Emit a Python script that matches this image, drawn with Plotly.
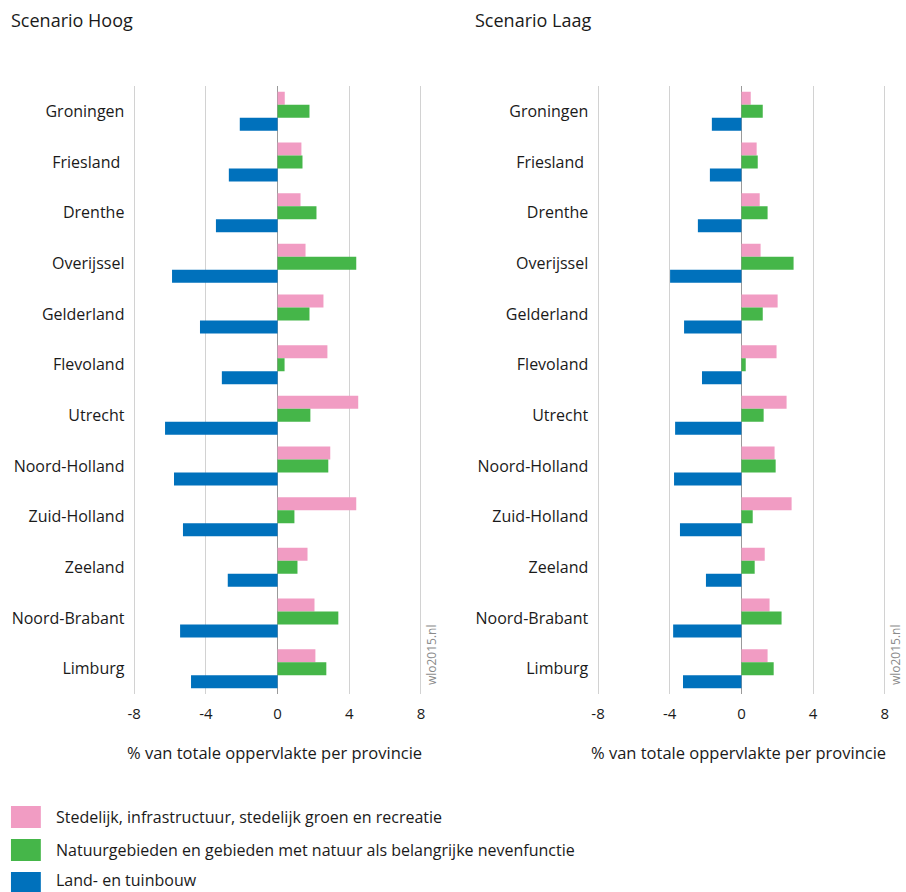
import plotly.graph_objects as go

provinces = ["Groningen", "Friesland ", "Drenthe", "Overijssel", "Gelderland", "Flevoland",
             "Utrecht", "Noord-Holland", "Zuid-Holland", "Zeeland", "Noord-Brabant", "Limburg"]

series_names = ["Stedelijk, infrastructuur, stedelijk groen en recreatie",
                "Natuurgebieden en gebieden met natuur als belangrijke nevenfunctie",
                "Land- en tuinbouw"]
colors = ["#F19CC3", "#45B649", "#0071BC"]

hoog_stedelijk = [0.4, 1.33, 1.28, 1.56, 2.56, 2.78, 4.5, 2.94, 4.39, 1.67, 2.06, 2.11]
hoog_natuur = [1.78, 1.39, 2.17, 4.39, 1.78, 0.39, 1.83, 2.83, 0.94, 1.11, 3.39, 2.72]
hoog_landbouw = [-2.11, -2.72, -3.44, -5.89, -4.33, -3.11, -6.28, -5.78, -5.28, -2.78, -5.44, -4.83]

laag_stedelijk = [0.52, 0.85, 1.02, 1.07, 2.02, 1.96, 2.52, 1.85, 2.8, 1.3, 1.57, 1.46]
laag_natuur = [1.19, 0.91, 1.46, 2.91, 1.19, 0.24, 1.24, 1.91, 0.63, 0.74, 2.24, 1.8]
laag_landbouw = [-1.65, -1.76, -2.43, -3.98, -3.2, -2.2, -3.7, -3.76, -3.43, -1.98, -3.81, -3.26]

x_ticks = [-8, -4, 0, 4, 8]
panel_titles = ["Scenario Hoog", "Scenario Laag"]
axis_title = "% van totale oppervlakte per provincie"
watermark = "wlo2015.nl"

W, H = 906, 892
FONT = "Open Sans"
TXT = "#1a1a1a"
XR = 8.2          # axis half-range, so the -8 / 8 gridlines are drawn
PPU = 18.0        # pixels per unit

def px(x):
    return x / W

def py(y):
    return 1 - y / H

fig = go.Figure()
panels = [(hoog_stedelijk, hoog_natuur, hoog_landbouw), (laag_stedelijk, laag_natuur, laag_landbouw)]
for p, vals in enumerate(panels):
    xa = "x" if p == 0 else "x2"
    ya = "y" if p == 0 else "y2"
    for s, v in enumerate(vals):
        fig.add_trace(go.Bar(y=provinces, x=v, orientation="h", name=series_names[s],
                             marker=dict(color=colors[s], line=dict(width=0)),
                             xaxis=xa, yaxis=ya, showlegend=False, hoverinfo="x+y"))

yd = [py(694), py(86)]
common_x = dict(range=[-XR, XR], tickvals=x_ticks, ticktext=[str(t) for t in x_ticks],
                showgrid=True, gridcolor="#d2d2d2", gridwidth=1.2,
                zeroline=True, zerolinecolor="#9a9a9a", zerolinewidth=1.3,
                ticks="outside", ticklen=6, tickcolor="rgba(0,0,0,0)", tickwidth=1,
                showline=False, tickfont=dict(family=FONT, size=15, color=TXT), fixedrange=True)
common_y = dict(type="category", range=[11.5, -0.5], showgrid=False, zeroline=False,
                ticks="outside", ticklen=2, tickcolor="rgba(0,0,0,0)",
                tickfont=dict(family=FONT, size=16, color=TXT), showline=False, fixedrange=True)

def dom(zero_px):
    return [px(zero_px - XR * PPU), px(zero_px + XR * PPU)]

fig.update_layout(
    width=W, height=H, margin=dict(l=0, r=0, t=0, b=0),
    paper_bgcolor="white", plot_bgcolor="white",
    barmode="group", bargap=0.23, bargroupgap=0,
    font=dict(family=FONT, color=TXT),
    xaxis=dict(domain=dom(275.8), anchor="y", **common_x),
    yaxis=dict(domain=yd, anchor="x", **common_y),
    xaxis2=dict(domain=dom(741.7), anchor="y2", **common_x),
    yaxis2=dict(domain=yd, anchor="x2", **common_y),
)

annotations = []
for i, (tx, cx, wx) in enumerate([(6, 273, 430), (472, 739, 896)]):
    annotations.append(dict(text=panel_titles[i], x=px(tx), y=py(20), xref="paper", yref="paper",
                            xanchor="left", yanchor="middle", showarrow=False,
                            font=dict(family=FONT, size=18, color=TXT)))
    annotations.append(dict(text=axis_title, x=px(cx), y=py(752), xref="paper", yref="paper",
                            xanchor="center", yanchor="middle", showarrow=False,
                            font=dict(family=FONT, size=16.5, color=TXT)))
    annotations.append(dict(text=watermark, x=px(wx), y=py(655), xref="paper", yref="paper",
                            xanchor="center", yanchor="middle", showarrow=False, textangle=-90,
                            font=dict(family=FONT, size=12, color="#8a8a8a")))

shapes = []
text_centers = [817, 850, 879.5]
for s in range(3):
    top = 806 + s * 33
    shapes.append(dict(type="rect", xref="paper", yref="paper", x0=px(8), x1=px(38),
                       y0=py(top + 22), y1=py(top), fillcolor=colors[s], line=dict(width=0)))
    annotations.append(dict(text=series_names[s], x=px(52), y=py(text_centers[s]), xref="paper", yref="paper",
                            xanchor="left", yanchor="middle", showarrow=False, borderpad=0,
                            font=dict(family=FONT, size=16, color=TXT)))

fig.update_layout(annotations=annotations, shapes=shapes)
fig.write_html("out.html", config={"displayModeBar": False})

with open("out.html", "r", encoding="utf-8") as f:
    html = f.read()
html = html.replace("<head>", "<head><style>html,body{margin:0;padding:0;overflow:hidden;}</style>", 1)
with open("out.html", "w", encoding="utf-8") as f:
    f.write(html)
